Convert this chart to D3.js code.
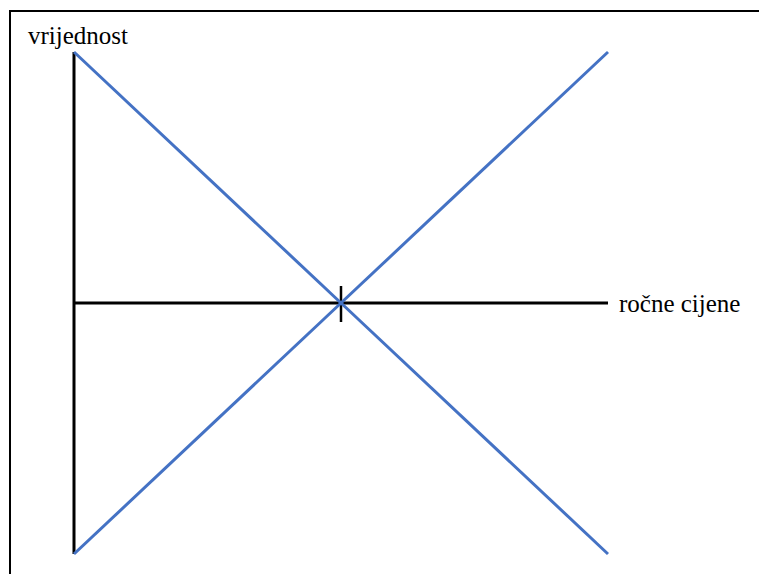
<!DOCTYPE html>
<html>
<head>
<meta charset="utf-8">
<script src="https://cdn.jsdelivr.net/npm/d3@7"></script>
<style>
body { margin: 0; background: #fff; }
svg { display: block; }
svg text { font-family: 'Liberation Serif', 'Times New Roman', serif; }
</style>
</head>
<body>
<svg id="chart" width="759" height="574"></svg>
<script>
// data
var x_points = [0, 1, 2]
var rising_values = [-1, 0, 1]
var falling_values = [1, 0, -1]
var y_label = 'vrijednost'
var x_label = 'ročne cijene'

var x = d3.scaleLinear()
  .domain([0, 2])
  .range([74, 608])

var y = d3.scaleLinear()
  .domain([-1, 1])
  .range([554, 52])

var svg = d3.select('#chart')

// frame (right and bottom edges fall outside the picture)
svg.append('rect')
  .attr('x', 10)
  .attr('y', 11)
  .attr('width', 800)
  .attr('height', 600)
  .attr('fill', 'none')
  .attr('stroke', '#000')
  .attr('stroke-width', 2)

// vertical axis
svg.append('line')
  .attr('x1', x(0))
  .attr('x2', x(0))
  .attr('y1', y(1))
  .attr('y2', y(-1))
  .attr('stroke', '#000')
  .attr('stroke-width', 3)

// horizontal axis
svg.append('line')
  .attr('x1', x(0))
  .attr('x2', x(2))
  .attr('y1', y(0))
  .attr('y2', y(0))
  .attr('stroke', '#000')
  .attr('stroke-width', 3)

// tick at the crossing
svg.append('line')
  .attr('x1', x(1))
  .attr('x2', x(1))
  .attr('y1', y(0) - 17)
  .attr('y2', y(0) + 19)
  .attr('stroke', '#000')
  .attr('stroke-width', 2.5)

var line = d3.line()
  .x(function(d) { return x(d.x) })
  .y(function(d) { return y(d.v) })

var series = [rising_values, falling_values]

series.forEach(function(vals) {
  var pts = x_points.map(function(xp, i) { return {x: xp, v: vals[i]} })
  svg.append('path')
    .datum(pts)
    .attr('d', line)
    .attr('fill', 'none')
    .attr('stroke', '#4472c4')
    .attr('stroke-width', 3)
})

svg.append('text')
  .attr('x', 28)
  .attr('y', 44)
  .attr('font-family', 'Liberation Serif')
  .attr('font-size', 25)
  .text(y_label)

svg.append('text')
  .attr('x', 619)
  .attr('y', 312)
  .attr('font-family', 'Liberation Serif')
  .attr('font-size', 25)
  .text(x_label)
</script>
</body>
</html>
